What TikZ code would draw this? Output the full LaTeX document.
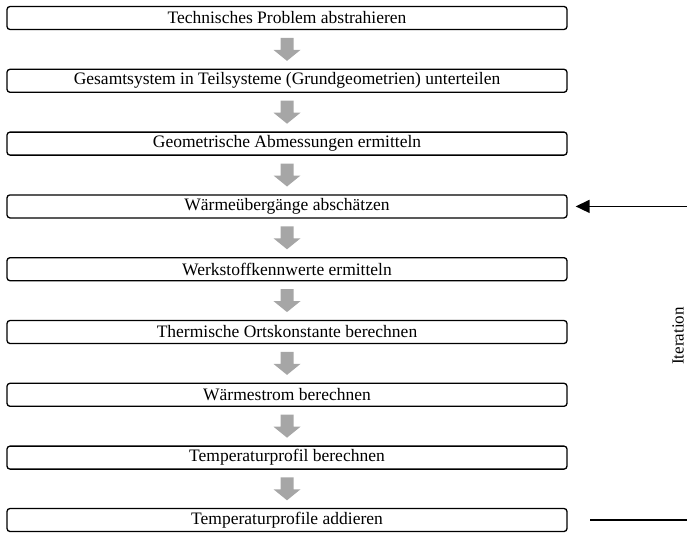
\documentclass[tikz,border=0pt]{standalone}
\usepackage{fontspec}
\setmainfont{Liberation Serif}
\usetikzlibrary{arrows.meta,calc}

\definecolor{flowgray}{HTML}{A6A6A6}

\tikzset{
  stepbox/.style={draw=black, line width=1.3pt, rounded corners=3pt,
    minimum width=560pt, minimum height=23pt, inner sep=0pt,
    font=\fontsize{17.5}{20}\selectfont},
  flowarrow/.style={fill=flowgray, draw=none},
  iterline/.style={draw=black, line width=1.6pt},
  iterlabel/.style={rotate=90, font=\fontsize{17}{19}\selectfont, inner sep=0pt}
}

\begin{document}
\begin{tikzpicture}[x=1pt, y=-1pt]
  \useasboundingbox (0,0) rectangle (687,532);

  % process steps
  \node[stepbox] (b1) at (287,18.0)  {Technisches Problem abstrahieren};
  \node[stepbox] (b2) at (287,80.8)  {Gesamtsystem in Teilsysteme (Grundgeometrien) unterteilen};
  \node[stepbox] (b3) at (287,143.6) {Geometrische Abmessungen ermitteln};
  \node[stepbox] (b4) at (287,206.4) {Wärmeübergänge abschätzen};
  \node[stepbox] (b5) at (287,269.2) {Werkstoffkennwerte ermitteln};
  \node[stepbox] (b6) at (287,332.0) {Thermische Ortskonstante berechnen};
  \node[stepbox] (b7) at (287,394.8) {Wärmestrom berechnen};
  \node[stepbox] (b8) at (287,457.6) {Temperaturprofil berechnen};
  \node[stepbox] (b9) at (287,520.0) {Temperaturprofile addieren};

  % block arrows between consecutive steps
  \foreach \i [evaluate=\i as \j using int(\i+1)] in {1,...,8} {
    \coordinate (m\i) at ($(b\i.south)!0.5!(b\j.north)$);
    \fill[flowarrow] (m\i) ++(-6.5,-11.5) -- ++(13,0) -- ++(0,12) -- ++(7,0)
      -- ++(-13.5,11) -- ++(-13.5,-11) -- ++(7,0) -- cycle;
  }

  % iteration loop back to the heat transfer step
  \coordinate (itop) at ($(b4.east)+(120,0)$);
  \coordinate (ibot) at ($(b9.east)+(120,0)$);
  \draw[iterline, -{Stealth[length=14pt, width=13pt, inset=0pt]}]
    (itop) -- ([xshift=8pt]b4.east);
  \draw[iterline] (ibot) -- ([xshift=22pt]b9.east);
  \node[iterlabel] (it) at (678,336) {Iteration};
\end{tikzpicture}
\end{document}
